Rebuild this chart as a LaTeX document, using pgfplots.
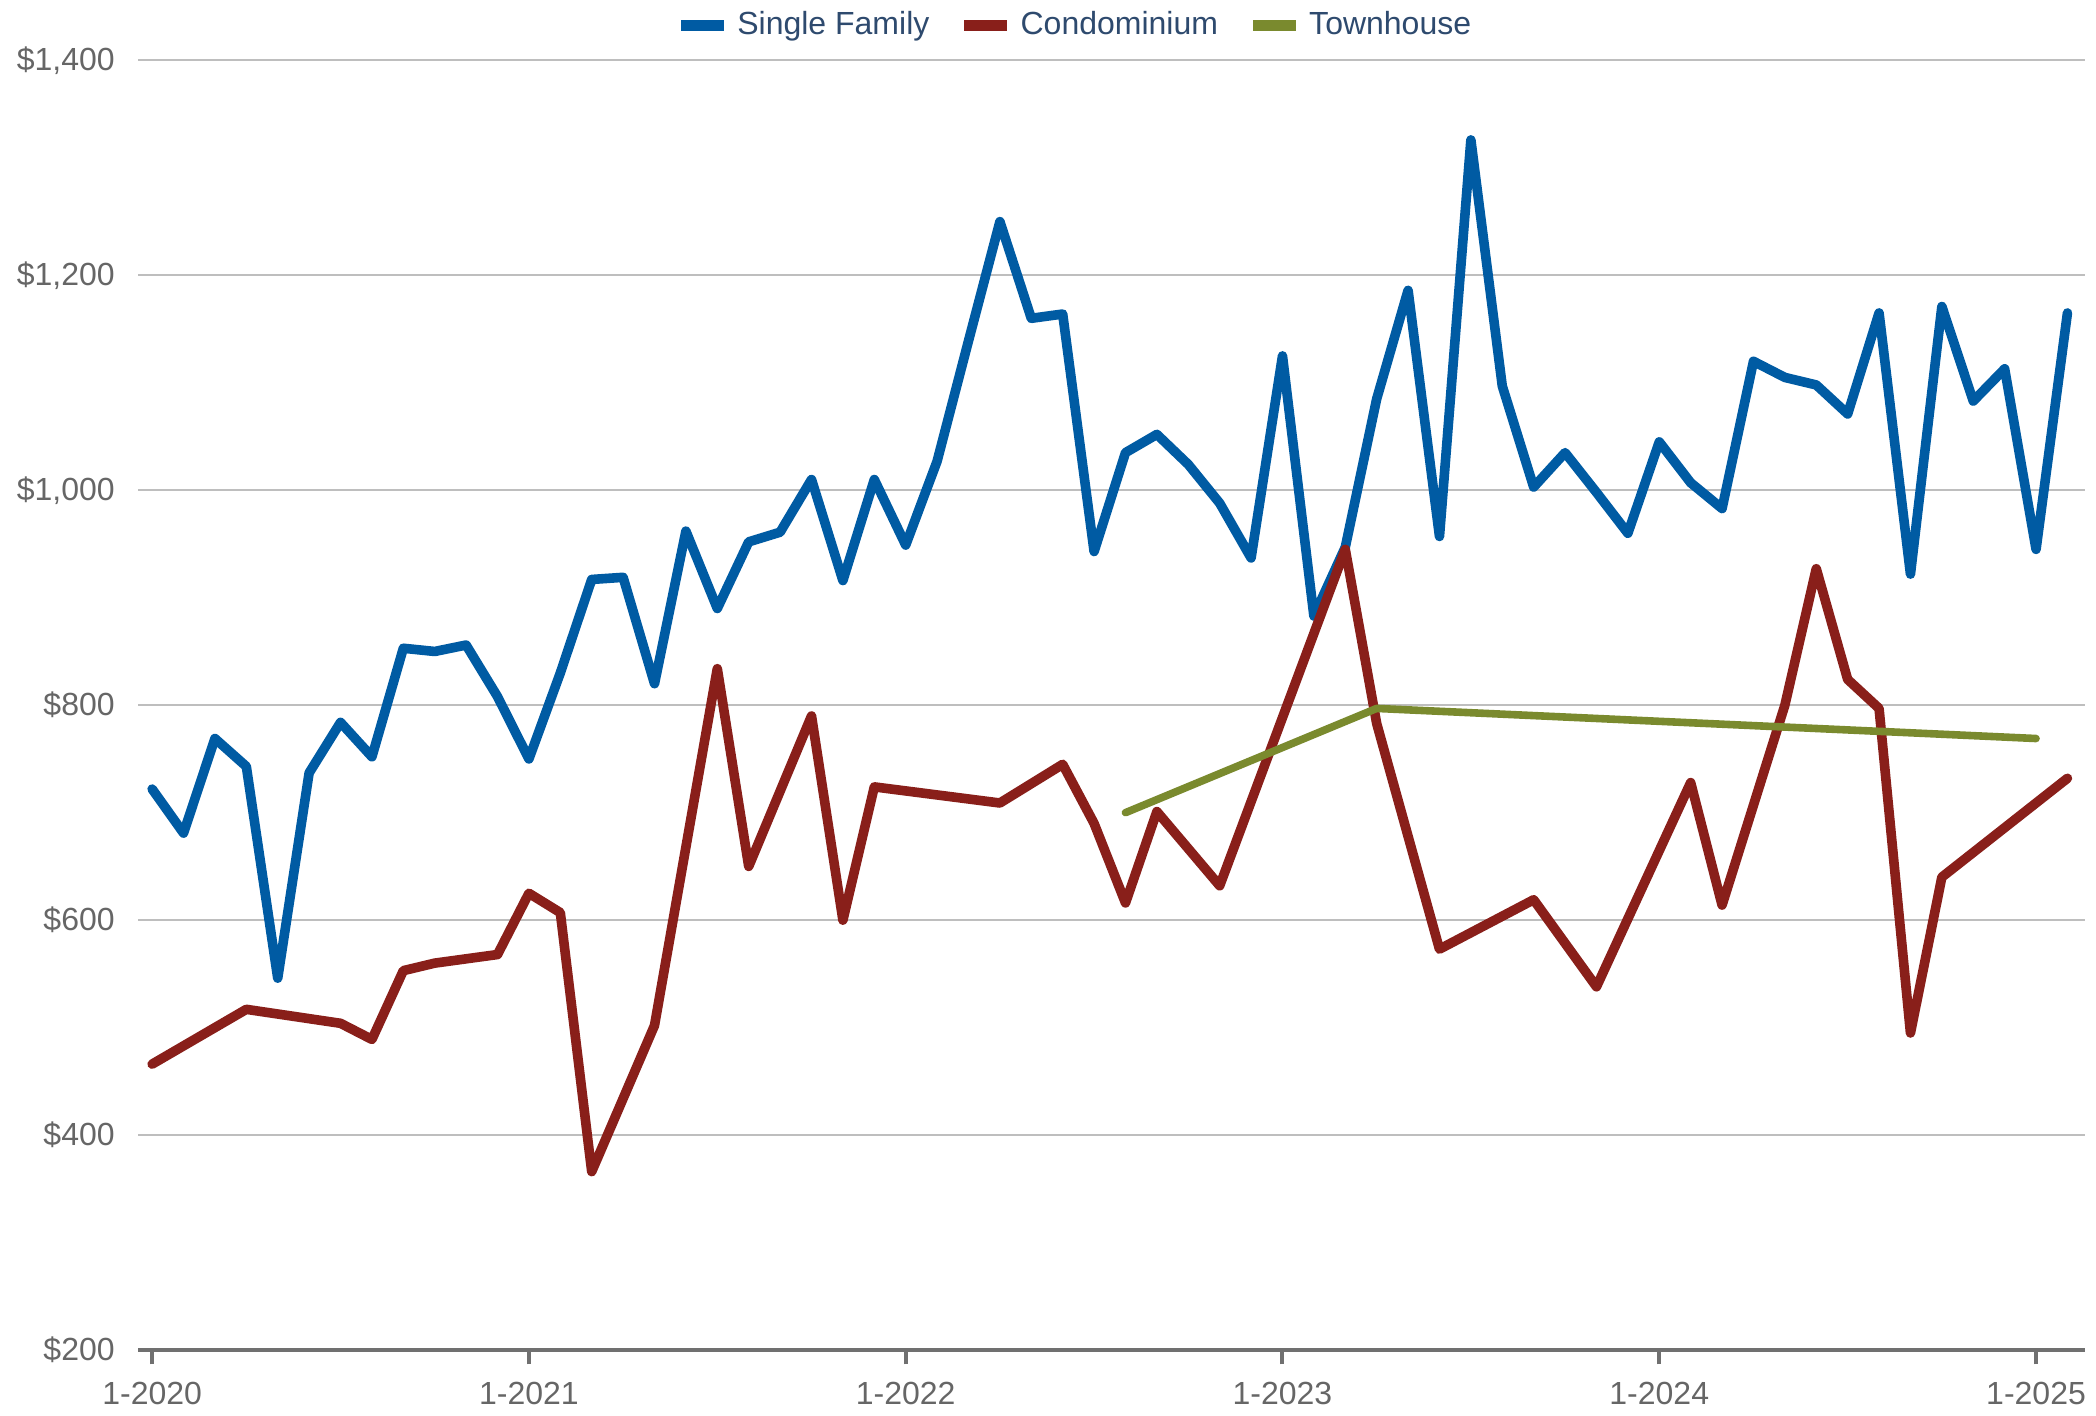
\documentclass[border=0pt]{standalone}
\usepackage{fontspec}
\setmainfont{Liberation Sans}
\usepackage{pgfplots}
\pgfplotsset{compat=1.18}
\definecolor{sfblue}{RGB}{0,91,163}
\definecolor{condored}{RGB}{137,31,26}
\definecolor{thgreen}{RGB}{122,138,46}
\definecolor{ticklab}{RGB}{102,102,102}
\definecolor{legtext}{RGB}{46,74,110}
\definecolor{gridc}{RGB}{190,190,190}
\definecolor{axisc}{RGB}{112,112,112}
\begin{document}
\begin{tikzpicture}
\useasboundingbox (-34.5pt,-16.25pt) rectangle (489.5pt,337.5pt);
\begin{axis}[
  at={(0,0)}, anchor=south west,
  scale only axis, width=486.75pt, height=322.4pt,
  xmin=-0.45, xmax=61.56, ymin=200, ymax=1400,
  axis x line*=bottom, axis y line*=left,
  y axis line style={draw=none},
  x axis line style={draw=axisc, line width=1.1pt, -},
  ytick={200,400,...,1400},
  yticklabels={\$200,\$400,\$600,\$800,{\$1,000},{\$1,200},{\$1,400}},
  yticklabel style={xshift=1.3pt},
  xtick={0,12,24,36,48,60},
  xticklabels={1-2020,1-2021,1-2022,1-2023,1-2024,1-2025},
  xticklabel style={yshift=-0.8pt},
  ymajorgrids, grid style={draw=gridc, line width=0.5pt},
  tick align=outside, major tick length=3.6pt,
  xtick style={draw=axisc, line width=1pt},
  ytick style={draw=none},
  tick label style={font=\fontsize{8}{9.6}\selectfont, text=ticklab},
  legend style={at={(0.4825,1.027)}, anchor=center, draw=none, fill=none,
    legend columns=3, font=\fontsize{8}{9.6}\selectfont, text=legtext,
    /tikz/every even column/.append style={column sep=5.4pt}},
  legend image code/.code={\draw[#1, line width=2.7pt, line cap=butt] (0pt,0pt) -- (10.7pt,0pt);},
  every axis plot/.append style={line join=round, line cap=round},
]
\addplot[sfblue, line width=2.4pt, mark=none] table {
x y
0 722
1 681
2 769
3 743
4 546
5 737
6 784
7 752
8 853
9 850
10 856
11 808
12 750
13 830
14 917
15 919
16 820
17 962
18 890
19 952
20 961
21 1010
22 916
23 1010
24 949
25 1027
26 1139
27 1250
28 1160
29 1164
30 943
31 1035
32 1052
33 1024
34 988
35 937
36 1125
37 883
38 947
39 1085
40 1186
41 957
42 1326
43 1097
44 1003
45 1035
46 998
47 960
48 1045
49 1007
50 983
51 1120
52 1105
53 1098
54 1071
55 1165
56 922
57 1171
58 1083
59 1113
60 945
61 1165
};
\addlegendentry{Single Family}
\addplot[condored, line width=2.4pt, mark=none] table {
x y
0 466
3 517
6 504
7 489
8 553
9 560
11 568
12 625
13 607
14 366
16 502
18 834
19 650
21 790
22 600
23 724
27 709
29 745
30 690
31 616
32 701
34 632
38 945
39 783
41 573
44 619
46 538
49 728
50 614
52 800
53 927
54 824
55 797
56 495
57 640
61 732
};
\addlegendentry{Condominium}
\addplot[thgreen, line width=1.9pt, mark=none] table {
x y
31 700
39 797
60 769
};
\addlegendentry{Townhouse}
\end{axis}
\end{tikzpicture}
\end{document}
